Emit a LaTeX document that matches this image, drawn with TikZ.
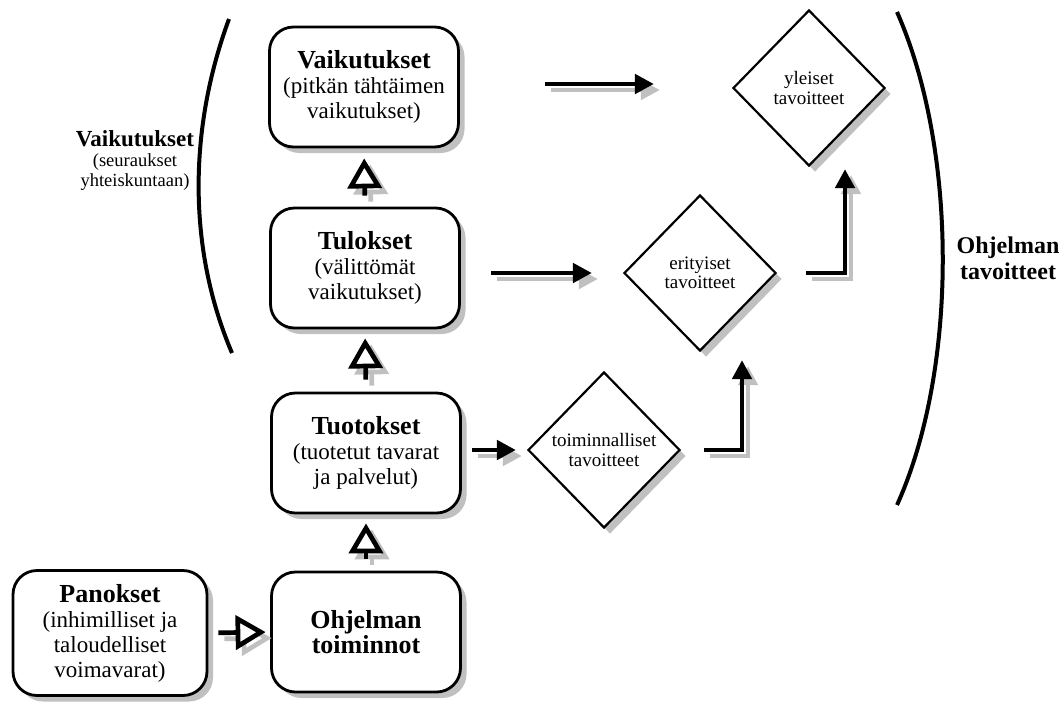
\documentclass[tikz,border=0pt]{standalone}
\usepackage{fontspec}
\setmainfont{Liberation Serif}
\usetikzlibrary{shapes.geometric,shadows,arrows.meta}
\definecolor{shgray}{RGB}{192,192,192}
\newcommand{\ttl}[1]{{\fontsize{26}{27}\selectfont\bfseries #1}}
\newcommand{\conn}[2]{\draw[#1,draw=shgray,transform canvas={xshift=6pt,yshift=-6pt}] #2;\draw[#1] #2;}
\begin{document}
\begin{tikzpicture}[x=1pt,y=-1pt,
  myshadow/.style={drop shadow={shadow xshift=6pt,shadow yshift=-6pt,fill=shgray,opacity=1}},
  box/.style={draw, line width=2.8pt, rounded corners=24pt, fill=white,
    minimum width=189pt, minimum height=120pt, align=center, inner sep=0pt,
    font=\fontsize{23}{25}\selectfont, myshadow},
  dia/.style={diamond, draw, line width=2.2pt, fill=white,
    minimum width=152pt, minimum height=156pt, inner sep=0pt, align=center,
    font=\fontsize{19}{19.5}\selectfont, myshadow},
  farrow/.style={line width=4.7pt, -{Triangle[length=19pt,width=19pt]}},
  oarrow/.style={line width=4.7pt, -{Triangle[length=30pt,width=34pt,fill=white]}},
  paren/.style={line width=4pt}]
\useasboundingbox (0,0) rectangle (1064,702);

% boxes
\node[box] (vaik) at (364,87) {\ttl{Vaikutukset}\\(pitkän tähtäimen\\vaikutukset)};
\node[box] (tul) at (365,268) {\ttl{Tulokset}\\(välittömät\\vaikutukset)};
\node[box] (tuot) at (366,453) {\ttl{Tuotokset}\\(tuotetut tavarat\\ja palvelut)};
\node[box] (ohj) at (366,632) {\ttl{Ohjelman}\\\ttl{toiminnot}};
\node[box, minimum width=194pt, minimum height=125pt] (pan) at (110,633)
  {\ttl{Panokset}\\(inhimilliset ja\\taloudelliset\\voimavarat)};

% diamonds
\node[dia] (yl) at (809,88) {yleiset\\tavoitteet};
\node[dia] (erit) at (700,273) {erityiset\\tavoitteet};
\node[dia] (toim) at (604,450) {toiminnalliset\\tavoitteet};

% side labels
\node[align=center, font=\fontsize{18.5}{20}\selectfont] (lab1) at (135,161)
  {{\fontsize{23}{24}\selectfont\bfseries Vaikutukset}\\(seuraukset\\yhteiskuntaan)};
\node[align=center, font=\fontsize{24}{26}\selectfont\bfseries] (lab2) at (1008,258)
  {Ohjelman\\tavoitteet};

% brackets
\draw[paren] (229,19) .. controls (188,130) and (188,250) .. (232,353);
\draw[paren] (897,12) .. controls (958,150) and (958,370) .. (897,505);

% connectors
\coordinate (ya) at ([yshift=4pt]yl.west);
\conn{oarrow, shorten <=10pt, shorten >=4.5pt}{(pan.east) -- (ohj.west)}
\conn{oarrow, shorten <=12pt, shorten >=9pt}{(ohj.north) -- (tuot.south)}
\conn{oarrow, shorten <=12pt, shorten >=9pt}{(tuot.north) -- (tul.south)}
\conn{oarrow, shorten <=11pt, shorten >=10pt}{(tul.north) -- (vaik.south)}
\conn{farrow, shorten <=10pt, shorten >=11pt}{(tuot.east |- toim.west) -- (toim.west)}
\conn{farrow, shorten <=30pt, shorten >=31pt}{(tul.east |- erit.west) -- (erit.west)}
\conn{farrow, shorten <=85pt, shorten >=78pt}{(vaik.east |- ya) -- (ya)}
\conn{farrow, shorten <=23pt, shorten >=8pt}{(toim.east) -| ([xshift=42pt]erit.south)}
\conn{farrow, shorten <=29pt, shorten >=2pt}{(erit.east) -| ([xshift=36pt]yl.south)}
\end{tikzpicture}
\end{document}
